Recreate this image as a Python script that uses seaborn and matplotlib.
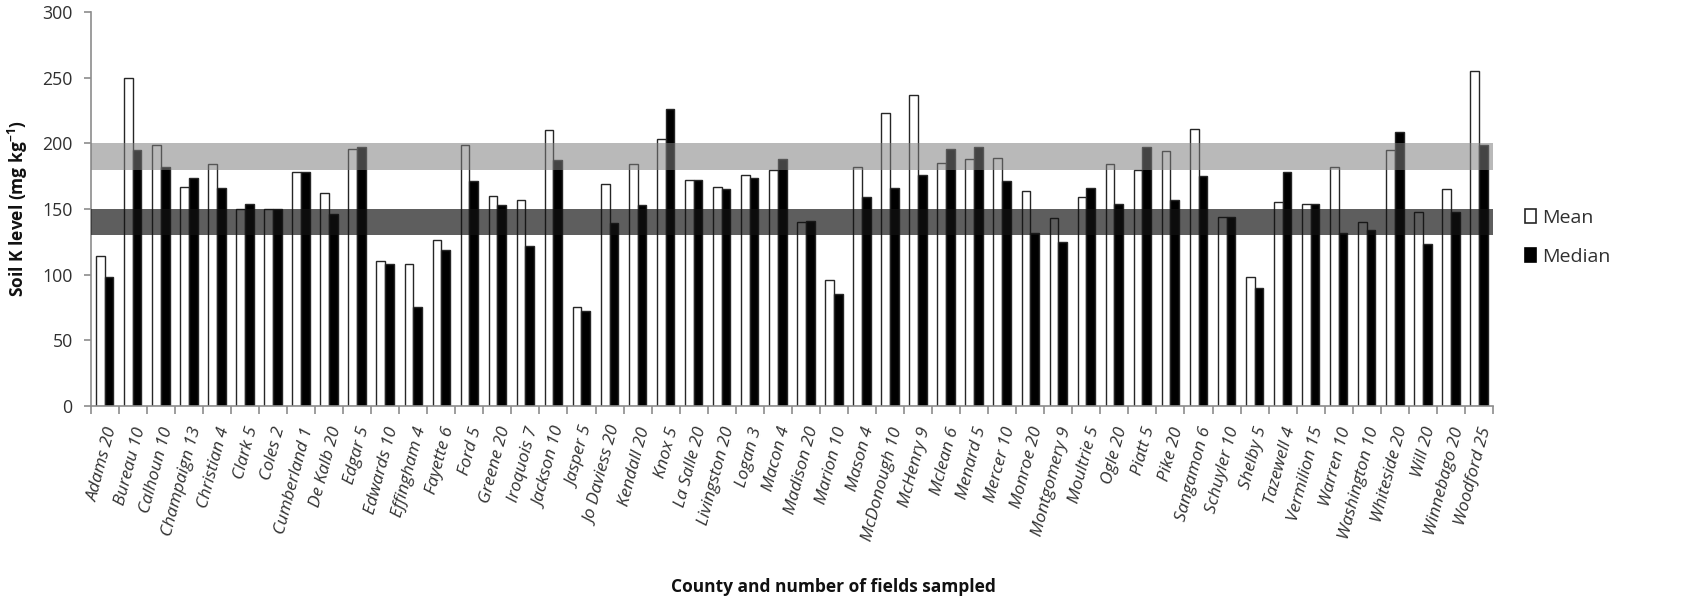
import matplotlib
matplotlib.use("Agg")
import matplotlib.pyplot as plt
from matplotlib.patches import Patch
from matplotlib.ticker import FixedLocator, NullFormatter
import seaborn as sns
import pandas as pd
import numpy as np

# Soil test K summary by county
counties = ["Adams", "Bureau", "Calhoun", "Champaign", "Christian", "Clark", "Coles",
            "Cumberland", "De Kalb", "Edgar", "Edwards", "Effingham", "Fayette", "Ford",
            "Greene", "Iroquois", "Jackson", "Jasper", "Jo Daviess", "Kendall", "Knox",
            "La Salle", "Livingston", "Logan", "Macon", "Madison", "Marion", "Mason",
            "McDonough", "McHenry", "Mclean", "Menard", "Mercer", "Monroe", "Montgomery",
            "Moultrie", "Ogle", "Piatt", "Pike", "Sangamon", "Schuyler", "Shelby",
            "Tazewell", "Vermilion", "Warren", "Washington", "Whiteside", "Will",
            "Winnebago", "Woodford"]
fields = [20, 10, 10, 13, 4, 5, 2, 1, 20, 5, 10, 4, 6, 5, 20, 7, 10, 5, 20, 20, 5,
          20, 20, 3, 4, 20, 10, 4, 10, 9, 6, 5, 10, 20, 9, 5, 20, 5, 20, 6, 10, 5,
          4, 15, 10, 10, 20, 20, 20, 25]
mean_k = [114, 250, 199, 167, 184, 150, 150, 178, 162, 196, 110, 108, 126, 199, 160,
          157, 210, 75, 169, 184, 203, 172, 167, 176, 180, 140, 96, 182, 223, 237, 185,
          188, 189, 164, 143, 159, 184, 180, 194, 211, 144, 98, 155, 154, 182, 140, 195,
          148, 165, 255]
median_k = [98, 195, 182, 174, 166, 154, 150, 178, 146, 197, 108, 75, 119, 171, 153,
            122, 187, 72, 139, 153, 226, 172, 165, 174, 188, 141, 85, 159, 166, 176, 196,
            197, 171, 132, 125, 166, 154, 197, 157, 175, 144, 90, 178, 154, 132, 134, 209,
            123, 148, 199]
# reference ranges (mg/kg)
optimum_band = (180, 200)
critical_band = (130, 150)

labels = [f"{c} {n}" for c, n in zip(counties, fields)]
df = pd.DataFrame({
    "county": labels * 2,
    "stat": ["Mean"] * len(labels) + ["Median"] * len(labels),
    "value": mean_k + median_k,
})

sns.set_theme(style="white")
plt.rcParams["font.family"] = ["Open Sans", "DejaVu Sans"]
plt.rcParams["mathtext.default"] = "regular"

fig = plt.figure(figsize=(16.94, 6.0), dpi=100)
ax = fig.add_axes([0.05354, 0.32383, 0.82780, 0.65567])

sns.barplot(data=df, x="county", y="value", hue="stat", order=labels,
            palette={"Mean": "white", "Median": "black"},
            edgecolor="#262626", linewidth=1.0, width=0.62, ax=ax, legend=False,
            errorbar=None)

ax.axhspan(*optimum_band, color="#7f7f7f", alpha=0.54, lw=0, zorder=3)
ax.axhspan(*critical_band, color="#121212", alpha=0.68, lw=0, zorder=3)

ax.set_xlim(-0.5, len(labels) - 0.5)
ax.set_ylim(0, 300)
ax.set_yticks(np.arange(0, 301, 50))

for side in ("top", "right"):
    ax.spines[side].set_visible(False)
for side in ("left", "bottom"):
    ax.spines[side].set_color("#8c8c8c")
    ax.spines[side].set_linewidth(1.2)

# category labels, tick marks between categories
ax.set_xticks(np.arange(len(labels)))
ax.set_xticklabels(labels, rotation=75, ha="right", rotation_mode="anchor",
                   fontsize=12.6, style="italic", color="#303030")
ax.tick_params(axis="x", which="major", length=0, pad=14)
ax.xaxis.set_minor_locator(FixedLocator(np.arange(-0.5, len(labels), 1.0)))
ax.xaxis.set_minor_formatter(NullFormatter())
ax.tick_params(axis="x", which="minor", bottom=True, length=6, width=1.2,
               color="#8c8c8c", direction="out")
ax.tick_params(axis="y", left=True, length=5, width=1.2, color="#8c8c8c",
               direction="out", labelsize=12.8, labelcolor="#303030", pad=8)

ax.set_ylabel("Soil K level (mg kg$^{-1}$)", fontsize=12.5, fontweight="bold",
              color="#111111")
ax.yaxis.set_label_coords(-0.0433, 0.50)
ax.set_xlabel("County and number of fields sampled", fontsize=12.5,
              fontweight="bold", color="#111111")
ax.xaxis.set_label_coords(0.53, -0.438)

handles = [Patch(facecolor="white", edgecolor="#262626", linewidth=1.2, label="Mean"),
           Patch(facecolor="black", edgecolor="black", linewidth=1.2, label="Median")]
ax.legend(handles=handles, loc="center left", bbox_to_anchor=(1.010, 0.428),
          frameon=False, fontsize=14, handlelength=0.6, handleheight=0.75,
          handletextpad=0.3, labelspacing=1.05, labelcolor="#303030")

fig.savefig("out.png", dpi=100)
